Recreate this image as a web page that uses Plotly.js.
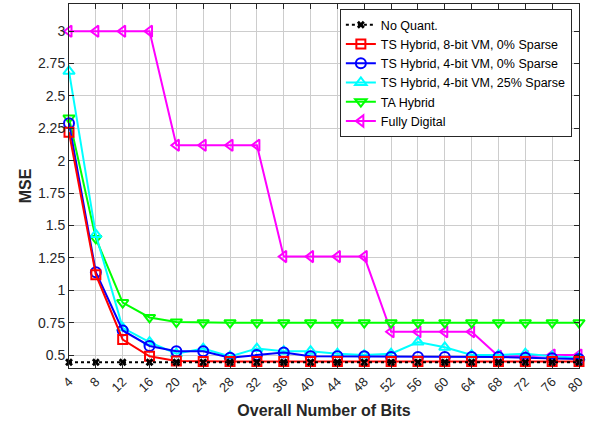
<!DOCTYPE html>
<html>
<head>
<meta charset="utf-8">
<script src="https://cdn.plot.ly/plotly-3.0.1.min.js"></script>
<style>html,body{margin:0;padding:0;background:#fff;}#chart{width:600px;height:423px;}</style>
</head>
<body>
<div id="chart"></div>
<script>
const bits = [4, 8, 12, 16, 20, 24, 28, 32, 36, 40, 44, 48, 52, 56, 60, 64, 68, 72, 76, 80];
const noQuant   = [0.445,0.445,0.445,0.445,0.445,0.445,0.445,0.445,0.445,0.445,0.445,0.445,0.445,0.445,0.445,0.445,0.445,0.445,0.445,0.445];
const ts8bit0   = [2.22,1.12,0.62,0.49,0.455,0.45,0.45,0.45,0.45,0.45,0.45,0.45,0.45,0.45,0.45,0.45,0.45,0.45,0.45,0.45];
const ts4bit0   = [2.29,1.14,0.69,0.57,0.53,0.53,0.48,0.50,0.52,0.49,0.49,0.49,0.485,0.485,0.485,0.485,0.485,0.48,0.475,0.47];
const ts4bit25  = [2.69,1.43,0.71,0.60,0.51,0.55,0.49,0.55,0.53,0.53,0.51,0.50,0.51,0.60,0.56,0.50,0.50,0.51,0.49,0.48];
const taHybrid  = [2.33,1.40,0.905,0.79,0.755,0.75,0.75,0.75,0.75,0.75,0.75,0.75,0.75,0.75,0.75,0.75,0.75,0.75,0.75,0.75];
const fullyDig  = [3.0,3.0,3.0,3.0,2.12,2.12,2.12,2.12,1.26,1.26,1.26,1.26,0.68,0.68,0.68,0.68,0.49,0.49,0.50,0.50];
const seriesNames = ["No Quant.","TS Hybrid, 8-bit VM, 0% Sparse","TS Hybrid, 4-bit VM, 0% Sparse","TS Hybrid, 4-bit VM, 25% Sparse","TA Hybrid","Fully Digital"];
const yTicks = [0.5,0.75,1,1.25,1.5,1.75,2,2.25,2.5,2.75,3];
const yTickText = ["0.5","0.75","1","1.25","1.5","1.75","2","2.25","2.5","2.75","3"];

function tr(y, name, color, symbol, dash, msize) {
  return {x: bits, y: y, name: name, type: 'scatter', mode: 'lines+markers', cliponaxis: false,
    line: {color: color, width: 2, dash: dash || 'solid'},
    marker: {symbol: symbol, size: msize || 10, color: color, line: {color: color, width: 2}}};
}
const data = [
  tr(fullyDig, seriesNames[5], '#ff00ff', 'triangle-left-open'),
  tr(taHybrid, seriesNames[4], '#00ff00', 'triangle-down-open'),
  tr(ts4bit25, seriesNames[3], '#00ffff', 'triangle-up-open'),
  tr(ts4bit0, seriesNames[2], '#0000ff', 'circle-open'),
  tr(ts8bit0, seriesNames[1], '#ff0000', 'square-open', 'solid', 9),
  tr(noQuant, seriesNames[0], '#000000', 'x', 'dot', 7)
];
data[5].marker = {symbol: 'x', size: 7, color: '#000000', line: {width: 0}};
const layout = {
  width: 600, height: 423,
  margin: {l: 69, r: 21, t: 4, b: 55},
  paper_bgcolor: '#ffffff', plot_bgcolor: '#ffffff',
  font: {family: 'Liberation Sans, Arial, sans-serif', size: 12, color: '#262626'},
  showlegend: true,
  legend: {x: 0.986, y: 0.986, xanchor: 'right', yanchor: 'top', traceorder: 'reversed',
    bgcolor: '#ffffff', bordercolor: '#262626', borderwidth: 1,
    font: {size: 12.5, color: '#000000'}, itemwidth: 30, tracegroupgap: 0},
  xaxis: {range: [4, 80], tickmode: 'array', tickvals: bits, ticktext: bits.map(String), tickangle: -45,
    ticks: 'inside', ticklen: 5, tickcolor: '#262626', showline: true, linecolor: '#262626', linewidth: 1, mirror: 'ticks',
    showgrid: true, gridcolor: '#cdcdcd', gridwidth: 1, zeroline: false, automargin: false,
    tickfont: {size: 13, color: '#262626'},
    title: {text: '<b>Overall Number of Bits</b>', font: {size: 16, color: '#262626'}, standoff: 10}},
  yaxis: {range: [0.4, 3.21], tickmode: 'array', tickvals: yTicks, ticktext: yTickText,
    ticks: 'inside', ticklen: 5, tickcolor: '#262626', showline: true, linecolor: '#262626', linewidth: 1, mirror: 'ticks',
    showgrid: true, gridcolor: '#cdcdcd', gridwidth: 1, zeroline: false, automargin: false,
    tickfont: {size: 14, color: '#262626'},
    title: {text: '<b>MSE</b>', font: {size: 16, color: '#262626'}, standoff: 2}}
};
Plotly.newPlot('chart', data, layout, {displayModeBar: false, staticPlot: true});
</script>
</body>
</html>
